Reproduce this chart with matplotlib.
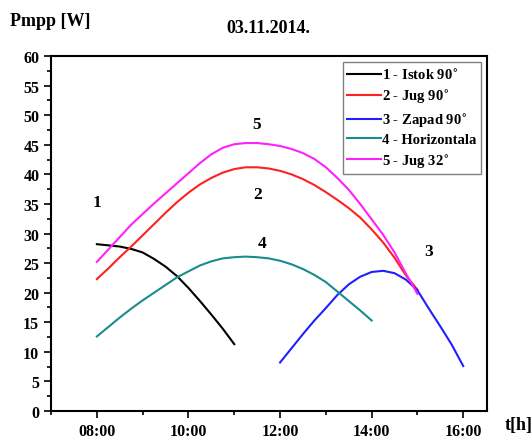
import numpy as np
import matplotlib
matplotlib.use('Agg')
import matplotlib.pyplot as plt
from matplotlib.ticker import MultipleLocator, FuncFormatter

plt.rcParams['font.family'] = 'Liberation Serif'
plt.rcParams['font.weight'] = 'bold'

# time in hours, read every quarter hour
t_istok = [8.0, 8.25, 8.5, 8.75, 9.0, 9.25, 9.5, 9.75, 10.0, 10.25, 10.5, 10.75, 11.0]
p_istok = [28.2, 28.0, 27.8, 27.4, 26.8, 25.7, 24.4, 22.8, 20.8, 18.6, 16.3, 13.9, 11.3]

t_jug = [8.0, 8.25, 8.5, 8.75, 9.0, 9.25, 9.5, 9.75, 10.0, 10.25, 10.5, 10.75,
         11.0, 11.25, 11.5, 11.75, 12.0, 12.25, 12.5, 12.75, 13.0, 13.25, 13.5,
         13.75, 14.0, 14.25, 14.5, 14.75, 15.0]
p_jug90 = [22.3, 24.1, 26.0, 27.8, 29.7, 31.6, 33.5, 35.3, 36.9, 38.3, 39.4, 40.3,
           40.9, 41.2, 41.2, 41.0, 40.6, 40.0, 39.2, 38.2, 37.0, 35.7, 34.3,
           32.7, 30.7, 28.5, 25.9, 22.9, 20.5]
p_jug32 = [25.2, 27.3, 29.4, 31.5, 33.3, 35.1, 36.8, 38.5, 40.2, 41.9, 43.4, 44.5,
           45.1, 45.3, 45.3, 45.1, 44.8, 44.3, 43.6, 42.6, 41.2, 39.4, 37.4,
           35.0, 32.4, 29.8, 26.8, 23.2, 19.8]

t_zapad = [12.0, 12.25, 12.5, 12.75, 13.0, 13.25, 13.5, 13.75, 14.0, 14.25, 14.5,
           14.75, 15.0, 15.25, 15.5, 15.75, 16.0]
p_zapad = [8.2, 10.6, 13.0, 15.3, 17.4, 19.6, 21.4, 22.7, 23.5, 23.7, 23.3,
           22.2, 20.4, 17.3, 14.3, 11.2, 7.6]

t_hor = [8.0, 8.25, 8.5, 8.75, 9.0, 9.25, 9.5, 9.75, 10.0, 10.25, 10.5, 10.75,
         11.0, 11.25, 11.5, 11.75, 12.0, 12.25, 12.5, 12.75, 13.0, 13.25, 13.5,
         13.75, 14.0]
p_hor = [12.6, 14.2, 15.8, 17.3, 18.7, 20.0, 21.3, 22.6, 23.6, 24.6, 25.3, 25.8,
         26.0, 26.1, 26.0, 25.8, 25.4, 24.8, 24.0, 23.0, 21.8, 20.2, 18.6,
         17.0, 15.3]

fig = plt.figure(figsize=(5.32, 4.39), dpi=100)
ax = fig.add_axes([0.096, 0.0615, 0.8195, 0.8085])

lw = 1.5
ax.plot(t_istok, p_istok, color='black', lw=lw, label='1 - Istok 90$^{\\circ}$')
ax.plot(t_jug, p_jug90, color='#ff2020', lw=lw, label='2 - Jug 90$^{\\circ}$')
ax.plot(t_zapad, p_zapad, color='#2020ff', lw=lw, label='3 - Zapad 90$^{\\circ}$')
ax.plot(t_hor, p_hor, color='#1a8c8c', lw=lw, label='4 - Horizontala')
ax.plot(t_jug, p_jug32, color='#ff20ff', lw=lw, label='5 - Jug 32$^{\\circ}$')

# curve numbers
for s, x, y in [('1', 8.0, 35.3), ('2', 11.5, 36.6), ('3', 15.25, 27.0),
                ('4', 11.6, 28.4), ('5', 11.48, 48.5)]:
    ax.text(x, y, s, ha='center', va='center', fontsize=12.5, fontweight='bold')

ax.set_xlim(7.0, 16.52)
ax.set_ylim(0, 60)
ax.xaxis.set_major_locator(MultipleLocator(2))
ax.xaxis.set_minor_locator(MultipleLocator(1))
ax.yaxis.set_major_locator(MultipleLocator(5))
ax.yaxis.set_minor_locator(MultipleLocator(2.5))
ax.xaxis.set_major_formatter(FuncFormatter(lambda v, p: '%02d:00' % int(round(v))))
ax.tick_params(which='major', direction='out', length=5, width=1.2, labelsize=11.5)
ax.tick_params(which='minor', direction='out', length=3, width=1.2)
for sp in ax.spines.values():
    sp.set_linewidth(1.5)

leg = ax.legend(loc='upper right', fontsize=10.5, handlelength=2.3, handletextpad=0.1,
                labelspacing=0.3, borderaxespad=0.4, fancybox=False, framealpha=1,
                borderpad=0.3)
leg.get_frame().set_edgecolor('#808080')
leg.get_frame().set_linewidth(1.0)

fig.text(0.505, 0.935, '03.11.2014.', ha='center', va='center', fontsize=13, fontweight='bold')
fig.text(0.018, 0.95, 'Pmpp [W]', ha='left', va='center', fontsize=13, fontweight='bold')
fig.text(0.948, 0.03, 't[h]', ha='left', va='center', fontsize=13, fontweight='bold')

plt.savefig('out.png', dpi=100)
